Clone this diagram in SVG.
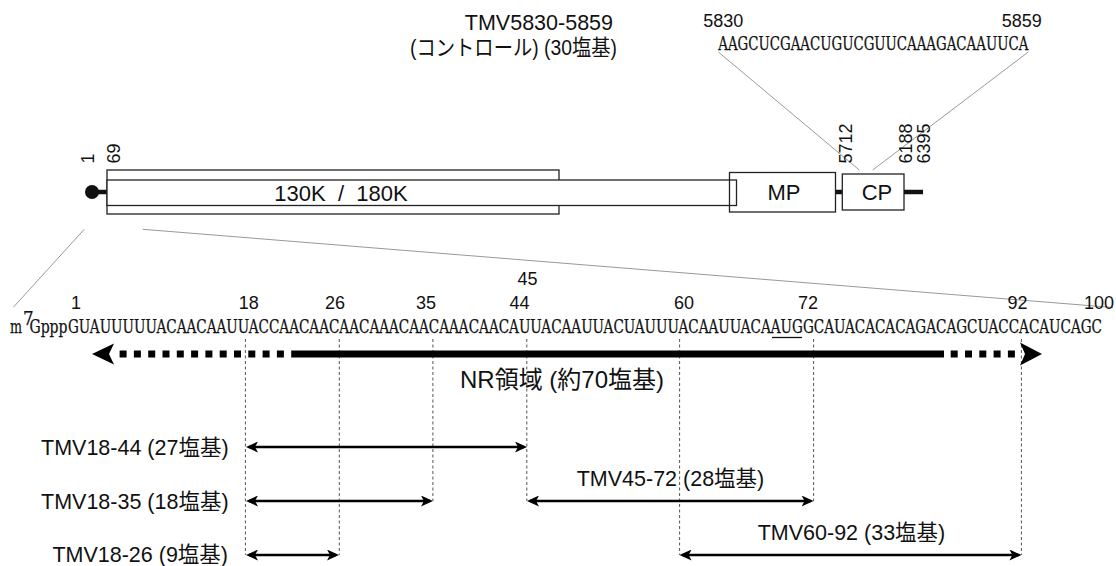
<svg xmlns="http://www.w3.org/2000/svg" width="1116" height="566" viewBox="0 0 1116 566">
<style>
.t{font-family:"Liberation Sans","Noto Sans CJK JP",sans-serif;fill:#111}
.num{font-size:18px}
.lbl{font-size:21.5px}
.big{font-size:22px}
.seq{font-family:"DejaVu Serif","Liberation Serif",serif;font-stretch:condensed;font-size:18.5px;fill:#111;stroke:#111;stroke-width:0.25}
.box{fill:#fff;stroke:#222;stroke-width:1.3}
.open{fill:none;stroke:#222;stroke-width:1.3}
.stub{stroke:#111;stroke-width:4.5;fill:none}
.thin{stroke:#999;stroke-width:1;fill:none}
.dash{stroke:#555;stroke-width:1;stroke-dasharray:3 2.5;fill:none}
.arr{stroke:#000;stroke-width:2.6;fill:none;marker-start:url(#ah);marker-end:url(#ah)}
.nr{stroke:#000;stroke-width:7;fill:none}
.dot{stroke-dasharray:7 7.3}
</style>
<defs>
<marker id="ah" markerUnits="userSpaceOnUse" viewBox="0 0 12 11" markerWidth="12" markerHeight="11" refX="9" refY="5.5" orient="auto-start-reverse">
<path d="M0,0 L12,5.5 L0,11 L3,5.5 z" fill="#000"/>
</marker>
</defs>
<rect width="1116" height="566" fill="#fff"/>

<g id="connectors">
<line class="thin" x1="718.3" y1="52" x2="859.3" y2="170"/>
<line class="thin" x1="1028.3" y1="52" x2="872.7" y2="170"/>
<line class="thin" x1="84.3" y1="229.3" x2="13.3" y2="307.3"/>
<line class="thin" x1="142.7" y1="229.3" x2="1113" y2="307.5"/>
<line class="dash" x1="245.4" y1="339" x2="245.4" y2="555"/>
<line class="dash" x1="339.3" y1="339" x2="339.3" y2="555"/>
<line class="dash" x1="432.9" y1="339" x2="432.9" y2="501"/>
<line class="dash" x1="526.8" y1="339" x2="526.8" y2="501"/>
<line class="dash" x1="679.6" y1="339" x2="679.6" y2="555"/>
<line class="dash" x1="813.6" y1="339" x2="813.6" y2="501"/>
<line class="dash" x1="1021.4" y1="339" x2="1021.4" y2="555"/>
<line class="arr" x1="249" y1="447" x2="524" y2="447"/>
<line class="arr" x1="249" y1="501" x2="430" y2="501"/>
<line class="arr" x1="249" y1="555" x2="336" y2="555"/>
<line class="arr" x1="530" y1="501" x2="810.6" y2="501"/>
<line class="arr" x1="682.6" y1="555" x2="1018.4" y2="555"/>
</g>

<g id="nr-region">
<line class="nr dot" x1="119.6" y1="354" x2="298" y2="354"/>
<line class="nr" x1="298" y1="354" x2="944" y2="354"/>
<line class="nr dot" x1="950.7" y1="354" x2="1016" y2="354"/>
<polygon points="92,354 114,343.5 109,354 114,364.5" fill="#000"/>
<polygon points="1042,354 1020,342.5 1025,354 1020,365.5" fill="#000"/>
<text class="t" x="562" y="388" font-size="24" text-anchor="middle">NR領域 (約70塩基)</text>
</g>

<g id="genome">
<g id="cap">
<line class="stub" x1="92" y1="192" x2="107" y2="192"/>
<circle cx="92" cy="192" r="7" fill="#111"/>
<text class="t num" transform="translate(93.5,163.5) rotate(-90)">1</text>
<text class="t num" transform="translate(119.5,163.5) rotate(-90)">69</text>
</g>
<g id="orf-130k-180k">
<rect class="box" x="107" y="170" width="452" height="44"/>
<rect class="box" x="107" y="180" width="629.5" height="25.5"/>
<text class="t big" x="341" y="201" text-anchor="middle" style="white-space:pre">130K  /  180K</text>
</g>
<g id="mp">
<rect class="open" x="729.5" y="172.5" width="106" height="39.5"/>
<text class="t big" x="784" y="200" text-anchor="middle">MP</text>
</g>
<line class="stub" x1="835.5" y1="192" x2="842.3" y2="192"/>
<g id="cp">
<rect class="box" x="842.3" y="174" width="61.7" height="36"/>
<text class="t big" x="877" y="200" text-anchor="middle">CP</text>
<text class="t num" transform="translate(851.5,163.5) rotate(-90)">5712</text>
<text class="t num" transform="translate(911.5,163.5) rotate(-90)">6188</text>
<text class="t num" transform="translate(929.5,163.5) rotate(-90)">6395</text>
</g>
<line class="stub" x1="904" y1="192" x2="923" y2="192"/>
</g>

<g id="control">
<text class="t lbl" x="613" y="30" text-anchor="end">TMV5830-5859</text>
<text class="t lbl" x="410" y="55" textLength="207" lengthAdjust="spacingAndGlyphs">(コントロール) (30塩基)</text>
<text class="t num" x="703.3" y="27">5830</text>
<text class="t num" x="1001.7" y="27">5859</text>
<text class="seq" x="718.3" y="50" textLength="310" lengthAdjust="spacingAndGlyphs">AAGCUCGAACUGUCGUUCAAAGACAAUUCA</text>
</g>

<g id="leader-sequence">
<text class="t num" x="76" y="309" text-anchor="middle">1</text>
<text class="t num" x="248.7" y="309" text-anchor="middle">18</text>
<text class="t num" x="335" y="309" text-anchor="middle">26</text>
<text class="t num" x="426" y="309" text-anchor="middle">35</text>
<text class="t num" x="519.6" y="309" text-anchor="middle">44</text>
<text class="t num" x="527.5" y="285" text-anchor="middle">45</text>
<text class="t num" x="684" y="309" text-anchor="middle">60</text>
<text class="t num" x="808" y="309" text-anchor="middle">72</text>
<text class="t num" x="1017.6" y="309" text-anchor="middle">92</text>
<text class="t num" x="1099" y="309" text-anchor="middle">100</text>
<text class="seq" x="10" y="332.5" textLength="12" lengthAdjust="spacingAndGlyphs">m</text>
<text class="seq" x="23" y="325" font-size="10" stroke-width="0.15">7</text>
<text class="seq" x="29.5" y="332.5" textLength="38" lengthAdjust="spacingAndGlyphs">Gppp</text>
<text class="seq" x="68" y="332.5" textLength="1034" lengthAdjust="spacingAndGlyphs">GUAUUUUUACAACAAUUACCAACAACAACAAACAACAAACAACAUUACAAUUACUAUUUACAAUUACAAUGGCAUACACACAGACAGCUACCACAUCAGC</text>
<line x1="772" y1="337.5" x2="802" y2="337.5" stroke="#111" stroke-width="1.3"/>
</g>

<g id="probes">
<text class="t lbl" x="228.6" y="455" text-anchor="end">TMV18-44 (27塩基)</text>
<text class="t lbl" x="228.6" y="509" text-anchor="end">TMV18-35 (18塩基)</text>
<text class="t lbl" x="228" y="562" text-anchor="end">TMV18-26 (9塩基)</text>
<text class="t lbl" x="670.5" y="486" text-anchor="middle">TMV45-72 (28塩基)</text>
<text class="t lbl" x="851.5" y="540" text-anchor="middle">TMV60-92 (33塩基)</text>
</g>
</svg>
